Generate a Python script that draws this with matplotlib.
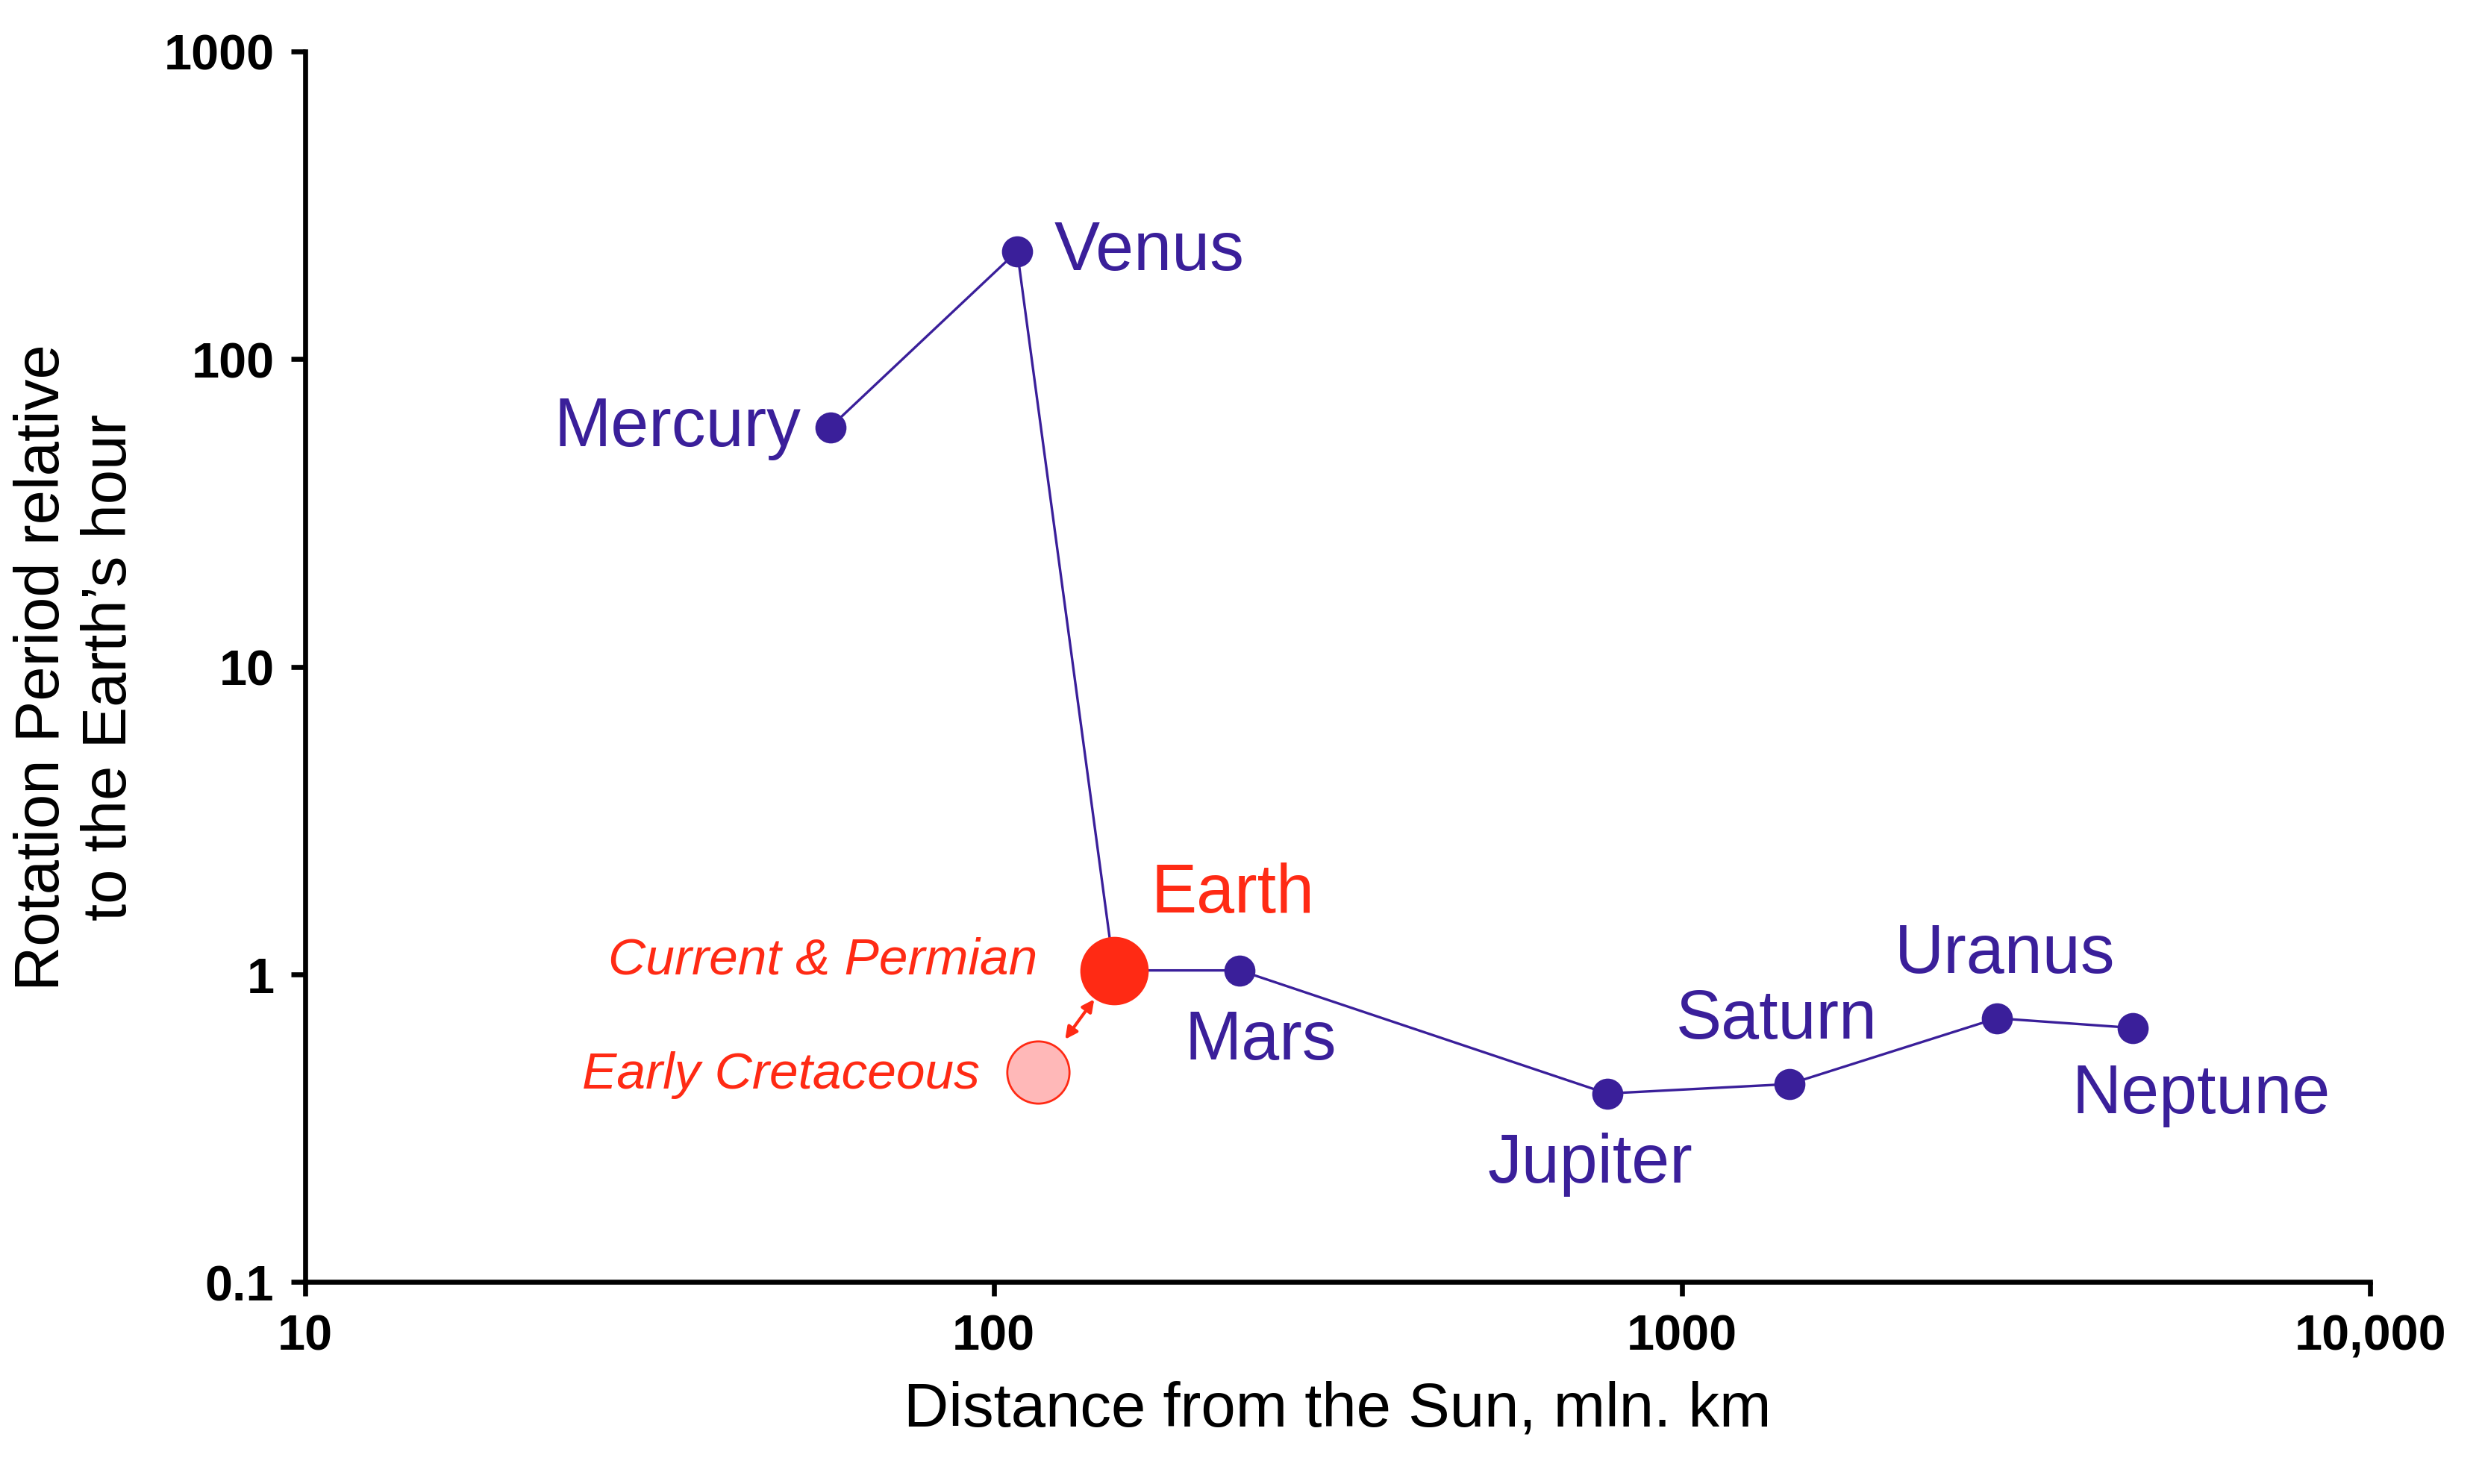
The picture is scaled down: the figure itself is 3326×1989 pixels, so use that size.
import matplotlib
matplotlib.use("Agg")
import matplotlib.pyplot as plt
from matplotlib.ticker import FixedLocator, FixedFormatter, NullLocator

plt.rcParams['font.family'] = ['Liberation Sans', 'DejaVu Sans']

planets = ["Mercury", "Venus", "Earth", "Mars", "Jupiter", "Saturn", "Uranus", "Neptune"]
distance = [57.9, 108.2, 149.6, 227.9, 778.5, 1432, 2867, 4515]
period = [60, 224, 1.03, 1.03, 0.41, 0.44, 0.72, 0.67]
cretaceous_distance = [116]
cretaceous_period = [0.48]
xticks = [10, 100, 1000, 10000]
xticklabels = ["10", "100", "1000", "10,000"]
yticks = [0.1, 1, 10, 100, 1000]
yticklabels = ["0.1", "1", "10", "100", "1000"]

purple = "#3a1f9a"
red = "#ff2a14"

fig = plt.figure(figsize=(16.63, 9.95), dpi=200)
ax = fig.add_axes([0.123, 0.136, 0.832, 0.829])
ax.set_xscale("log"); ax.set_yscale("log")
ax.set_xlim(10, 10000); ax.set_ylim(0.1, 1000)

ax.plot(distance, period, color=purple, lw=1.2, zorder=2)
others = [i for i, p in enumerate(planets) if p != "Earth"]
ax.plot([distance[i] for i in others], [period[i] for i in others], 'o',
        color=purple, ms=14, zorder=3)
e = planets.index("Earth")
ax.plot([distance[e]], [period[e]], 'o', color=red, ms=32, zorder=4)
ax.plot(cretaceous_distance, cretaceous_period, 'o', mfc="#ffb8b8", mec=red,
        mew=1, ms=30, zorder=3)
ax.annotate("", xy=(140, 0.83), xytext=(127, 0.615),
            arrowprops=dict(arrowstyle="<|-|>", color=red, lw=1.5,
                            mutation_scale=12, shrinkA=0, shrinkB=0))

offsets = {
    "Mercury": ((-14, 0), "right", "center"),
    "Venus": ((18, 0), "left", "center"),
    "Earth": ((18, 37), "left", "center"),
    "Mars": ((10, -34), "center", "center"),
    "Jupiter": ((-8, -34), "center", "center"),
    "Saturn": ((-6, 31), "center", "center"),
    "Uranus": ((4, 31), "center", "center"),
    "Neptune": ((33, -32), "center", "center"),
}
for name, x, y in zip(planets, distance, period):
    off, ha, va = offsets[name]
    ax.annotate(name, (x, y), xytext=off, textcoords="offset points",
                ha=ha, va=va, fontsize=33, color=red if name == "Earth" else purple)

ax.annotate("Current & Permian", (distance[e], period[e]), xytext=(-37, 5),
            textcoords="offset points", ha="right", va="center", fontsize=25,
            style="italic", color=red)
ax.annotate("Early Cretaceous", (cretaceous_distance[0], cretaceous_period[0]),
            xytext=(-28, -1), textcoords="offset points", ha="right", va="center",
            fontsize=25, style="italic", color=red)

for s in ["top", "right"]:
    ax.spines[s].set_visible(False)
for s in ["left", "bottom"]:
    ax.spines[s].set_linewidth(2.4)
ax.xaxis.set_major_locator(FixedLocator(xticks))
ax.xaxis.set_major_formatter(FixedFormatter(xticklabels))
ax.yaxis.set_major_locator(FixedLocator(yticks))
ax.yaxis.set_major_formatter(FixedFormatter(yticklabels))
ax.xaxis.set_minor_locator(NullLocator()); ax.yaxis.set_minor_locator(NullLocator())
ax.tick_params(width=2.4, length=7, labelsize=24, pad=8)
for lab in ax.get_xticklabels() + ax.get_yticklabels():
    lab.set_fontweight("bold")
ax.set_xlabel("Distance from the Sun, mln. km", fontsize=30, labelpad=10)
ax.set_ylabel("Rotation Period relative\nto the Earth\u2019s hour", fontsize=30, labelpad=12)

fig.savefig("out.png", dpi=200)
